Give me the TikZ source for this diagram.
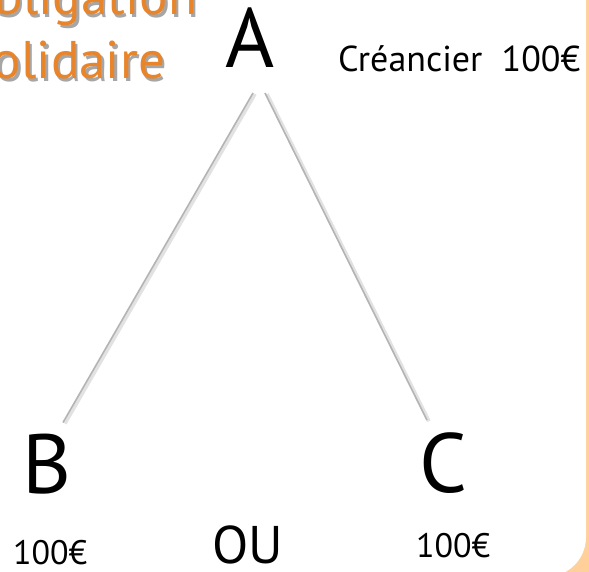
\documentclass[tikz,border=0pt]{standalone}
\usepackage{fontspec}
\setmainfont{PT Sans}
\definecolor{peach}{HTML}{FFD09A}
\definecolor{titleorange}{HTML}{E8842A}
\definecolor{linegray}{HTML}{B4B4B4}
\definecolor{shadowgray}{HTML}{E2E2E2}
\begin{document}
\begin{tikzpicture}[x=1pt,y=-1pt,
  every node/.style={inner sep=0pt,outer sep=0pt},
  big/.style={font=\fontsize{84}{84}\selectfont,anchor=base},
  small/.style={font=\fontsize{34}{34}\selectfont,anchor=base west},
  ttl/.style={font=\fontsize{53}{53}\selectfont,anchor=base east,text=titleorange},
  ttlshadow/.style={font=\fontsize{53}{53}\selectfont,anchor=base east,text=black!35},
  link/.style={draw=linegray,line width=1.6pt},
  linkshadow/.style={draw=shadowgray,line width=3.5pt}]
\useasboundingbox (0,0) rectangle (589,572);
\clip (0,0) rectangle (589,572);
\fill[peach] (0,0) rectangle (589,572);
\fill[white,rounded corners=40pt] (-60,-60) rectangle (586,577);
% title
\node[ttlshadow] (t1s) at (199.5,18) {Obligation};
\node[ttlshadow] (t2s) at (167.5,82) {solidaire};
\node[ttl] (t1) at (197,15) {Obligation};
\node[ttl] (t2) at (165,79) {solidaire};
% nodes
\node[big] (A) at (250,68) {A};
\node[big] (B) at (47,493) {B};
\node[big] (C) at (443,492) {C};
\node[small,font=\fontsize{36}{36}\selectfont] (cr) at (338,72) {Créancier\ \ 100€};
\node[small] (mb) at (13,564) {100€};
\node[small] (mc) at (416,557) {100€};
\node[font=\fontsize{53}{53}\selectfont,anchor=base] (ou) at (247.5,563) {OU};
% connectors
\draw[linkshadow] ([shift={(5,26)}]A.south) -- ([shift={(18,-10)}]B.north);
\draw[linkshadow] ([shift={(17,26)}]A.south) -- ([shift={(-14,-11)}]C.north);
\draw[link] ([shift={(3,25)}]A.south) -- ([shift={(16,-11)}]B.north);
\draw[link] ([shift={(15,25)}]A.south) -- ([shift={(-16,-12)}]C.north);
\end{tikzpicture}
\end{document}
